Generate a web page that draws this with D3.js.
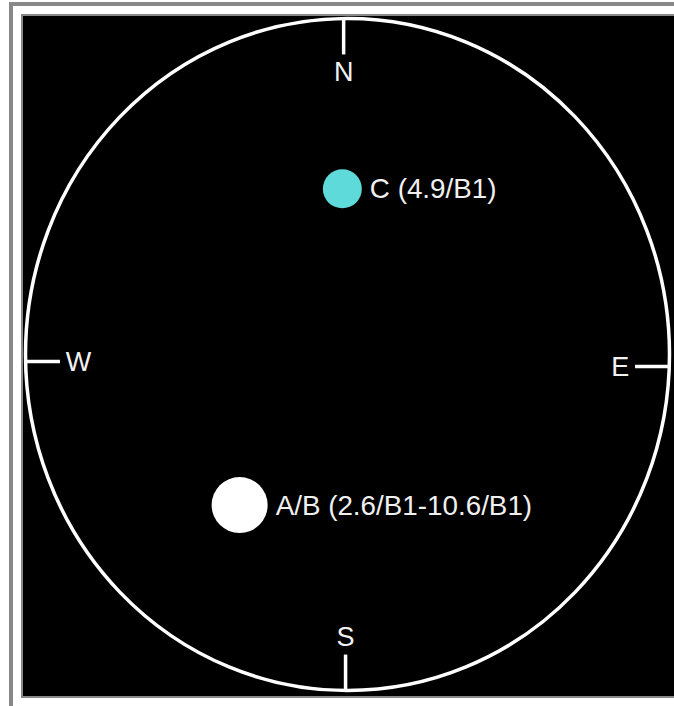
<!DOCTYPE html>
<html>
<head>
<meta charset="utf-8">
<script src="https://cdn.jsdelivr.net/npm/d3@7"></script>
<style>
  html, body { margin: 0; padding: 0; background: #ffffff; }
  svg { display: block; }
</style>
</head>
<body>
<script>
// ---- data ----
const starNames = ["C", "A/B"];
const starLabels = ["C (4.9/B1)", "A/B (2.6/B1-10.6/B1)"];
const starMag = [4.9, 2.6];              // brightest magnitude of each component
const starX = [-0.016, -0.335];          // field offset, east(+)/west(-), field radius = 1
const starY = [0.493, -0.448];           // field offset, north(+)/south(-)
const starColor = ["#5edada", "#ffffff"];
const compassLabels = ["N", "E", "S", "W"];
const compassX = [-0.012, 1, -0.006, -1];
const compassY = [1, -0.036, -1, -0.021];

// ---- layout ----
const W = 674, H = 706;
const svg = d3.select("body").append("svg").attr("width", W).attr("height", H);

// frame
svg.append("rect").attr("x", 9).attr("y", 2).attr("width", W - 9).attr("height", 4).attr("fill", "#888");
svg.append("rect").attr("x", 9).attr("y", 2).attr("width", 4).attr("height", H - 2).attr("fill", "#888");
svg.append("rect").attr("x", 21).attr("y", 14).attr("width", W - 21).attr("height", 684).attr("fill", "#888");
svg.append("rect").attr("x", 23).attr("y", 16).attr("width", W - 23).attr("height", 680).attr("fill", "#000");

const cx = 347.5, cy = 354.5, rx = 322, ry = 336;
const x = d3.scaleLinear().domain([-1, 1]).range([cx - rx, cx + rx]);
const y = d3.scaleLinear().domain([-1, 1]).range([cy + ry, cy - ry]);

// field circle
svg.append("ellipse")
  .attr("cx", x(0)).attr("cy", y(0))
  .attr("rx", x(1) - x(0)).attr("ry", y(0) - y(1))
  .attr("fill", "none").attr("stroke", "#fff").attr("stroke-width", 3.5);

// compass ticks
const tickLen = 0.107;
const compass = compassLabels.map((l, i) => ({ l, dx: compassX[i], dy: compassY[i] }));
const isH = d => Math.abs(d.dx) > 0.5;
svg.selectAll("line.tick").data(compass).join("line")
  .attr("class", "tick")
  .attr("x1", d => x(d.dx)).attr("y1", d => y(d.dy))
  .attr("x2", d => isH(d) ? x(d.dx * (1 - tickLen)) : x(d.dx))
  .attr("y2", d => isH(d) ? y(d.dy) : y(d.dy * (1 - tickLen)))
  .attr("stroke", "#fff").attr("stroke-width", 3.5);

svg.selectAll("text.compass").data(compass).join("text")
  .attr("class", "compass")
  .attr("x", d => isH(d) ? x(d.dx * (1 - 0.125)) : x(d.dx))
  .attr("y", d => isH(d) ? y(d.dy) : y(d.dy * (1 - 0.158)))
  .attr("text-anchor", d => isH(d) ? (d.dx > 0 ? "end" : "start") : "middle")
  .attr("dominant-baseline", "central")
  .attr("fill", "#f2f2f2")
  .attr("font-family", "Liberation Sans, Arial, sans-serif")
  .attr("font-size", 27)
  .text(d => d.l);

// stars
const r = d3.scaleLinear().domain([2.6, 4.9]).range([28, 19.5]);
const stars = starNames.map((n, i) => ({ n, label: starLabels[i], mag: starMag[i], sx: starX[i], sy: starY[i], c: starColor[i] }));

svg.selectAll("circle.star").data(stars).join("circle")
  .attr("class", "star")
  .attr("cx", d => x(d.sx)).attr("cy", d => y(d.sy))
  .attr("r", d => r(d.mag))
  .attr("fill", d => d.c);

svg.selectAll("text.star").data(stars).join("text")
  .attr("class", "star")
  .attr("x", d => x(d.sx) + r(d.mag) + 8)
  .attr("y", d => y(d.sy))
  .attr("dominant-baseline", "central")
  .attr("fill", "#f0f0f0")
  .attr("font-family", "Liberation Sans, Arial, sans-serif")
  .attr("font-size", 27.8)
  .text(d => d.label);
</script>
</body>
</html>
